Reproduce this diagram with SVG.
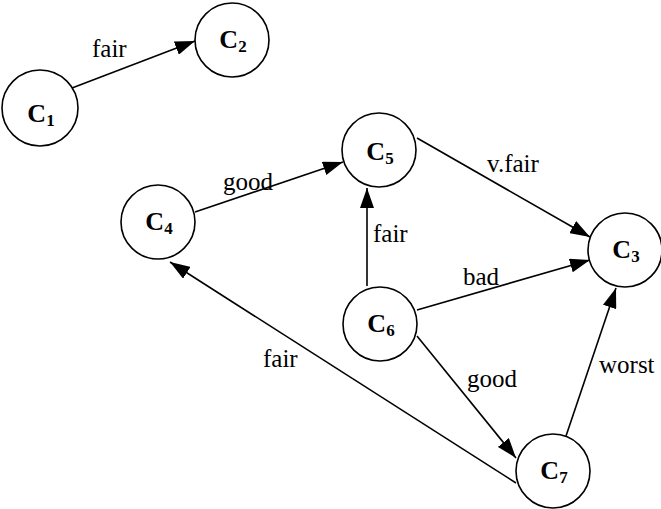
<svg xmlns="http://www.w3.org/2000/svg" width="661" height="509" viewBox="0 0 661 509">
<style>
.node circle{fill:#fff;stroke:#000;stroke-width:1.6}
.node text{font-family:'Liberation Serif','Times New Roman',serif;font-weight:bold;font-size:26px;text-anchor:middle;fill:#000}
.node .sub{font-size:17px}
.edge{stroke:#000;stroke-width:1.6;fill:none;marker-end:url(#arr)}
.lbl{font-family:'Liberation Serif','Times New Roman',serif;font-size:25px;fill:#000}
</style>
<defs>
<marker id="arr" markerUnits="userSpaceOnUse" markerWidth="20" markerHeight="14" refX="20" refY="7" orient="auto">
<path d="M0,0 L20,7 L0,14 z" fill="#000"/>
</marker>
</defs>
<rect width="661" height="509" fill="#fff"/>
<g id="connectors">
<line class="edge" x1="72" y1="88" x2="195" y2="41"/>
<line class="edge" x1="195" y1="212" x2="343" y2="162"/>
<line class="edge" x1="367" y1="286" x2="367" y2="188"/>
<line class="edge" x1="417" y1="138" x2="590" y2="237"/>
<line class="edge" x1="417" y1="310" x2="590" y2="260"/>
<line class="edge" x1="417" y1="336" x2="516" y2="458"/>
<line class="edge" x1="566" y1="436" x2="616" y2="288"/>
<line class="edge" x1="516" y1="483" x2="170" y2="262"/>
<text class="lbl" x="92" y="57">fair</text>
<text class="lbl" x="223" y="190">good</text>
<text class="lbl" x="373" y="242">fair</text>
<text class="lbl" x="487" y="172">v.fair</text>
<text class="lbl" x="463" y="285">bad</text>
<text class="lbl" x="467" y="387">good</text>
<text class="lbl" x="599" y="373">worst</text>
<text class="lbl" x="263" y="367">fair</text>
</g>
<g id="C1" class="node"><circle cx="40" cy="108" r="38"/><text x="41" y="122">C<tspan class="sub" dy="4">1</tspan></text></g>
<g id="C2" class="node"><circle cx="232" cy="40" r="37"/><text x="233" y="48">C<tspan class="sub" dy="4">2</tspan></text></g>
<g id="C3" class="node"><circle cx="625" cy="250" r="37"/><text x="626" y="258">C<tspan class="sub" dy="4">3</tspan></text></g>
<g id="C4" class="node"><circle cx="158" cy="222" r="37"/><text x="159" y="230">C<tspan class="sub" dy="4">4</tspan></text></g>
<g id="C5" class="node"><circle cx="379" cy="150" r="37"/><text x="380" y="160">C<tspan class="sub" dy="4">5</tspan></text></g>
<g id="C6" class="node"><circle cx="380" cy="324" r="37"/><text x="381" y="332">C<tspan class="sub" dy="4">6</tspan></text></g>
<g id="C7" class="node"><circle cx="553" cy="471" r="37"/><text x="554" y="479">C<tspan class="sub" dy="4">7</tspan></text></g>
</svg>
